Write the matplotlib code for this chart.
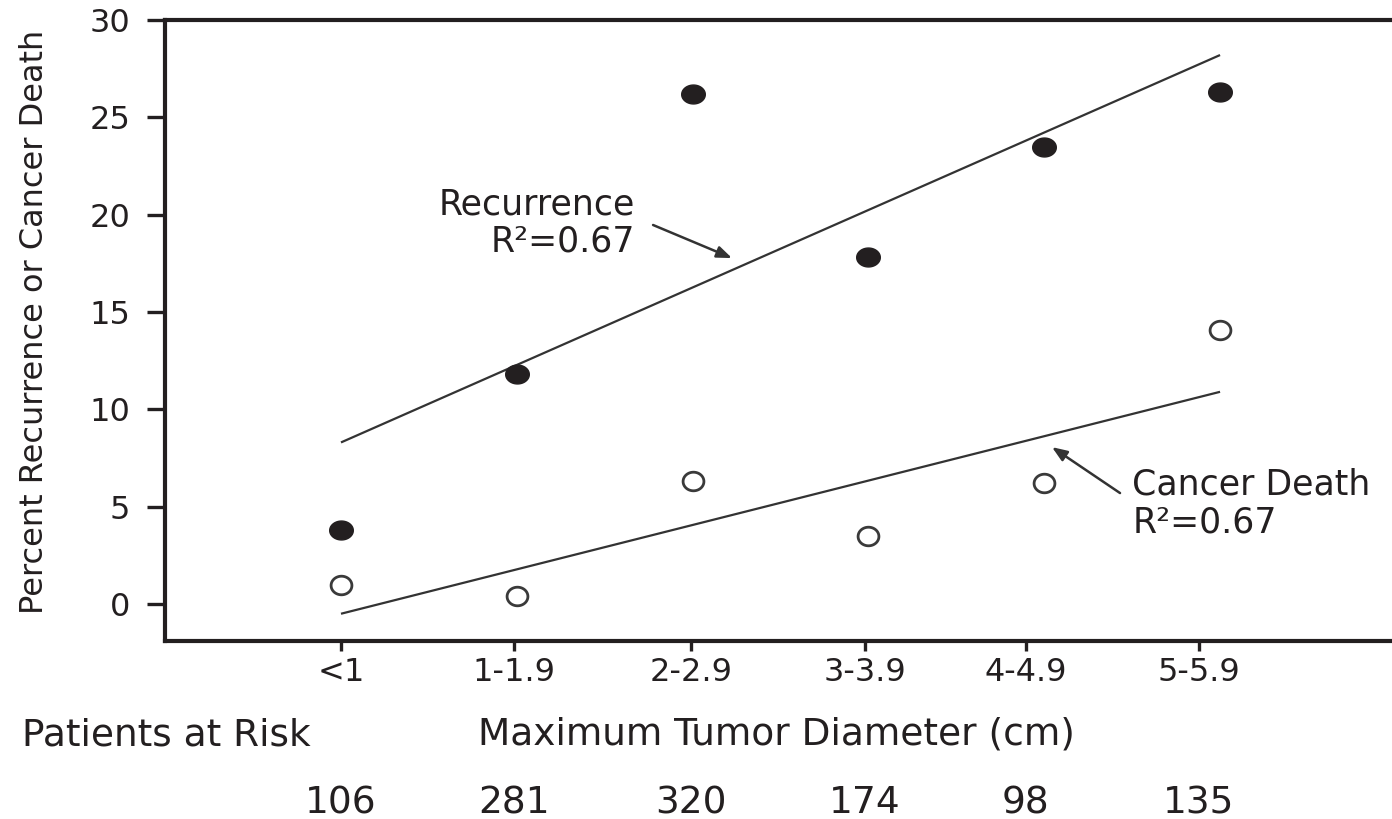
import matplotlib
matplotlib.use("Agg")
import matplotlib.pyplot as plt
from matplotlib.path import Path
from matplotlib.transforms import blended_transform_factory
import numpy as np

categories = ["<1", "1-1.9", "2-2.9", "3-3.9", "4-4.9", "5-5.9"]
recurrence = [3.8, 11.8, 26.2, 17.8, 23.5, 26.3]
cancer_death = [1.0, 0.4, 6.3, 3.5, 6.2, 14.1]
patients_at_risk = [106, 281, 320, 174, 98, 135]
yticks = [0, 5, 10, 15, 20, 25, 30]
# tick marks in the original sit slightly off the data positions
tick_positions = [0, 0.984, 1.99, 2.98, 3.896, 4.88]
# fitted trend lines (start/end)
rec_fit_x = [0, 5]
rec_fit_y = [8.3, 28.2]
cd_fit_x = [0, 5]
cd_fit_y = [-0.5, 10.9]

plt.rcParams['font.family'] = ['DejaVu Sans']
DARK = "#231f20"

W, H = 1392, 819
fig = plt.figure(figsize=(W / 100, H / 100), dpi=100)
ax = fig.add_axes([165 / W, 1 - 641 / H, 1 - 165 / W, (641 - 20) / H])

x = np.arange(len(categories))

# slightly horizontally stretched ellipse markers
t = np.linspace(0, 2 * np.pi, 60)
ell_f = Path(np.column_stack([1.25 * np.cos(t), np.sin(t)]), closed=True)
ell_o = Path(np.column_stack([1.12 * np.cos(t), np.sin(t)]), closed=True)

ax.plot(rec_fit_x, rec_fit_y, color="#333333", lw=1.6, solid_capstyle="butt")
ax.plot(cd_fit_x, cd_fit_y, color="#333333", lw=1.6, solid_capstyle="butt")
ax.plot(x, recurrence, linestyle="none", marker=ell_f, markersize=17,
        markerfacecolor=DARK, markeredgecolor=DARK, zorder=3)
ax.plot(x, cancer_death, linestyle="none", marker=ell_o, markersize=15,
        markerfacecolor="white", markeredgecolor="#3a3a3a", markeredgewidth=2.0, zorder=3)

ax.set_xlim(-1.001, 5.978)
ax.set_ylim(-1.9, 30)
ax.set_xticks(tick_positions)
ax.set_xticklabels(categories)
ax.set_yticks(yticks)
ax.set_yticklabels([str(v) for v in yticks])
ax.tick_params(axis="x", length=7.5, width=2.4, color=DARK, pad=4, labelsize=23, labelcolor=DARK)
ax.tick_params(axis="y", length=13, width=2.4, color=DARK, pad=12, labelsize=23, labelcolor=DARK)
for s in ["left", "bottom", "top"]:
    ax.spines[s].set_linewidth(3)
    ax.spines[s].set_color(DARK)
ax.spines["right"].set_visible(False)

# annotations
ax.text(1.672, 20.54, "Recurrence", ha="right", va="center", fontsize=25, color=DARK)
ax.text(1.672, 18.6, "R²=0.67", ha="right", va="center", fontsize=25, color=DARK)
ax.annotate("", xy=(2.224, 17.77), xytext=(1.775, 19.47),
            arrowprops=dict(arrowstyle="-|>,head_length=0.9,head_width=0.35", color="#333333", lw=1.8,
                            shrinkA=0, shrinkB=0))
ax.text(4.50, 6.16, "Cancer Death", ha="left", va="center", fontsize=25, color=DARK)
ax.text(4.50, 4.21, "R²=0.67", ha="left", va="center", fontsize=25, color=DARK)
ax.annotate("", xy=(4.044, 8.06), xytext=(4.431, 5.70),
            arrowprops=dict(arrowstyle="-|>,head_length=0.9,head_width=0.35", color="#333333", lw=1.8,
                            shrinkA=0, shrinkB=0))

# y label
fig.text(35 / W, 1 - 322 / H, "Percent Recurrence or Cancer Death", rotation=90,
         ha="center", va="center", fontsize=23, color=DARK)

# bottom texts
fig.text(22 / W, 1 - 735 / H, "Patients at Risk", ha="left", va="center", fontsize=27, color=DARK)
fig.text(776 / W, 1 - 735 / H, "Maximum Tumor Diameter (cm)", ha="center", va="center", fontsize=27, color=DARK)
tr = blended_transform_factory(ax.transData, fig.transFigure)
for xi, n in zip(tick_positions, patients_at_risk):
    ax.text(xi, 1 - 803 / H, str(n), transform=tr, ha="center", va="center", fontsize=27, color=DARK)

fig.savefig("out.png", dpi=100)
